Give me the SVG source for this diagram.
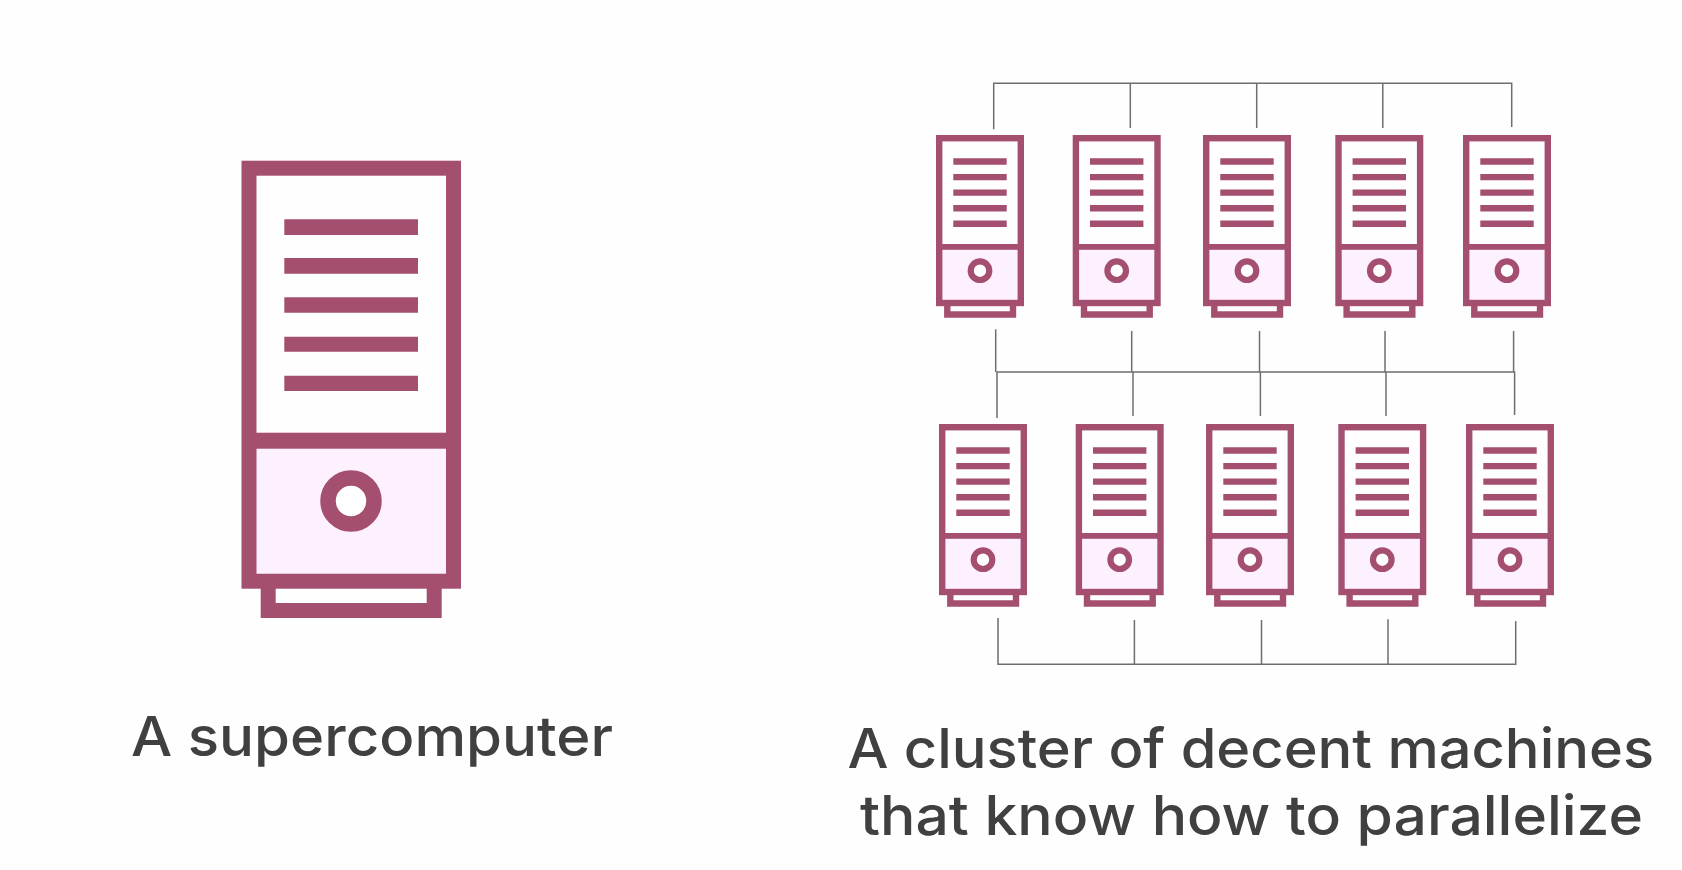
<svg xmlns="http://www.w3.org/2000/svg" xmlns:xlink="http://www.w3.org/1999/xlink" width="1682" height="870" viewBox="0 0 1682 870">
<style>
.p{fill:none;stroke:#a44f70}
.b{fill:#a44f70}
.l{fill:#fdf0ff}
.c line,.c path{fill:none;stroke:#6e6e6e;stroke-width:1.500}
text{font-family:Inter,"Liberation Sans",sans-serif;font-size:55px;fill:#404040;font-weight:500}
</style>
<defs>
<g id="srv">
<rect class="l" x="6" y="114" width="76" height="51"/>
<rect class="p" x="3.200" y="3.200" width="81.600" height="164.800" stroke-width="6.400"/>
<rect class="b" x="3" y="109" width="82" height="5.800"/>
<path class="p" stroke-width="6.400" d="M11.300 168V179.500H77V168"/>
<path class="b" d="M17.300 23.300H70.700V29.700H17.300ZM17.300 39H70.700V45.300H17.300ZM17.300 54.400H70.700V60.800H17.300ZM17.300 70H70.700V76.400H17.300ZM17.300 85.600H70.700V92H17.300Z"/>
<circle cx="44" cy="135.700" r="9.300" fill="#fff" stroke="#a44f70" stroke-width="6.200"/>
</g>
</defs>
<rect width="1682" height="870" fill="#fefefe"/>
<g id="supercomputer">
<rect class="l" x="256" y="448" width="191" height="125"/>
<rect class="p" x="249" y="168.200" width="204.500" height="413" stroke-width="15"/>
<rect class="b" x="249" y="432.700" width="204.500" height="16"/>
<path class="p" stroke-width="15" d="M268.200 588V610.500H434.200V588"/>
<path class="b" d="M284.300 219.300H418V235H284.300ZM284.300 258H418V273.700H284.300ZM284.300 297.300H418V312.700H284.300ZM284.300 336.700H418V351.700H284.300ZM284.300 375.700H418V391H284.300Z"/>
<circle cx="351" cy="501" r="23" fill="#fff" stroke="#a44f70" stroke-width="15.500"/>
</g>
<g class="c" id="connectors">
<path d="M993.700 129.300V83.300H1511.700V127"/>
<line x1="1130.300" y1="83.300" x2="1130.300" y2="128"/>
<line x1="1256.700" y1="83.300" x2="1256.700" y2="128"/>
<line x1="1382.800" y1="83.300" x2="1382.800" y2="128"/>
<line x1="995.700" y1="329.300" x2="995.700" y2="372"/>
<line x1="1131.700" y1="331" x2="1131.700" y2="372"/>
<line x1="1259.500" y1="331" x2="1259.500" y2="372"/>
<line x1="1385" y1="331" x2="1385" y2="372"/>
<line x1="1513.600" y1="331" x2="1513.600" y2="372"/>
<path d="M997 418V372H1514.600V415"/>
<line x1="1133" y1="372" x2="1133" y2="416"/>
<line x1="1260.400" y1="372" x2="1260.400" y2="416"/>
<line x1="1386" y1="372" x2="1386" y2="416"/>
<path d="M998 618V664.300H1515.700V621"/>
<line x1="1134.400" y1="620" x2="1134.400" y2="664.300"/>
<line x1="1261.500" y1="620" x2="1261.500" y2="664.300"/>
<line x1="1388" y1="619.300" x2="1388" y2="664.300"/>
</g>
<g id="server-1-1"><use href="#srv" x="936" y="135"/></g>
<g id="server-1-2"><use href="#srv" x="1072.700" y="135"/></g>
<g id="server-1-3"><use href="#srv" x="1203" y="135"/></g>
<g id="server-1-4"><use href="#srv" x="1335.300" y="135"/></g>
<g id="server-1-5"><use href="#srv" x="1463" y="135"/></g>
<g id="server-2-1"><use href="#srv" x="939" y="424"/></g>
<g id="server-2-2"><use href="#srv" x="1075.700" y="424"/></g>
<g id="server-2-3"><use href="#srv" x="1206" y="424"/></g>
<g id="server-2-4"><use href="#srv" x="1338.300" y="424"/></g>
<g id="server-2-5"><use href="#srv" x="1466" y="424"/></g>
<text id="label-left" x="131" y="755.500" textLength="482" lengthAdjust="spacingAndGlyphs">A supercomputer</text>
<text id="label-right-1" x="847.500" y="768" textLength="806.500" lengthAdjust="spacingAndGlyphs">A cluster of decent machines</text>
<text id="label-right-2" x="860" y="835" textLength="783" lengthAdjust="spacingAndGlyphs">that know how to parallelize</text>
</svg>
